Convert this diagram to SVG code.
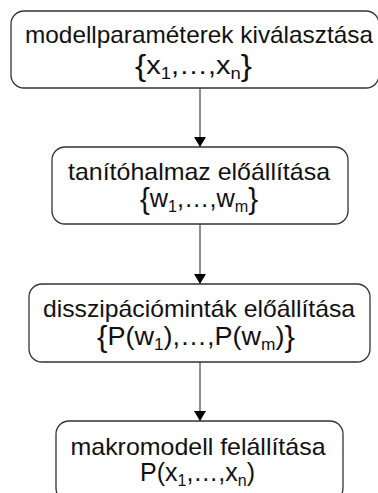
<svg xmlns="http://www.w3.org/2000/svg" width="378" height="493" viewBox="0 0 378 493">
  <defs>
    <marker id="arrow" viewBox="0 0 10 12" refX="10" refY="6" markerWidth="10" markerHeight="12" markerUnits="userSpaceOnUse" orient="auto">
      <path d="M0,0 L10,6 L0,12 Z" fill="#000"/>
    </marker>
  </defs>
  <style>
    .box { fill: #fff; stroke: #333; stroke-width: 1.3; }
    .label { font-family: "Liberation Sans", "DejaVu Sans", sans-serif; font-size: 24px; fill: #111; text-anchor: middle; }
    .math { font-size: 25px; }
    .sub { font-size: 16px; }
    .brace { font-size: 29px; }
    .edge { stroke: #555; stroke-width: 1.3; fill: none; marker-end: url(#arrow); }
  </style>
  <rect width="378" height="493" fill="#fff"/>

  <g id="connectors">
    <line class="edge" x1="200" y1="88" x2="200" y2="147"/>
    <line class="edge" x1="200" y1="224" x2="200" y2="284"/>
    <line class="edge" x1="200" y1="362" x2="200" y2="421"/>
  </g>

  <g id="node-params">
    <rect class="box" x="11" y="11" width="368" height="77" rx="13"/>
    <text class="label" x="199" y="43" textLength="348" lengthAdjust="spacingAndGlyphs">modellparaméterek kiválasztása</text>
    <text class="label math" x="193.5" y="74" textLength="117" lengthAdjust="spacingAndGlyphs"><tspan class="brace" dy="2">{</tspan><tspan dy="-2">x</tspan><tspan class="sub" dy="5">1</tspan><tspan dy="-5">,…,x</tspan><tspan class="sub" dy="5">n</tspan><tspan class="brace" dy="-3">}</tspan></text>
  </g>

  <g id="node-training">
    <rect class="box" x="52" y="147" width="296" height="77" rx="13"/>
    <text class="label" x="199" y="180" textLength="262" lengthAdjust="spacingAndGlyphs">tanítóhalmaz előállítása</text>
    <text class="label math" x="199" y="207" textLength="118" lengthAdjust="spacingAndGlyphs"><tspan class="brace" dy="2">{</tspan><tspan dy="-2">w</tspan><tspan class="sub" dy="5">1</tspan><tspan dy="-5">,…,w</tspan><tspan class="sub" dy="5">m</tspan><tspan class="brace" dy="-3">}</tspan></text>
  </g>

  <g id="node-dissipation">
    <rect class="box" x="29" y="284" width="341" height="78" rx="13"/>
    <text class="label" x="199" y="317" textLength="312" lengthAdjust="spacingAndGlyphs">disszipációminták előállítása</text>
    <text class="label math" x="196" y="345" textLength="198" lengthAdjust="spacingAndGlyphs"><tspan class="brace" dy="2">{</tspan><tspan dy="-2">P(w</tspan><tspan class="sub" dy="5">1</tspan><tspan dy="-5">),…,P(w</tspan><tspan class="sub" dy="5">m</tspan><tspan dy="-5">)</tspan><tspan class="brace" dy="2">}</tspan></text>
  </g>

  <g id="node-macromodel">
    <rect class="box" x="56" y="421" width="287" height="80" rx="13"/>
    <text class="label" x="198" y="455" textLength="255" lengthAdjust="spacingAndGlyphs">makromodell felállítása</text>
    <text class="label math" x="197.5" y="481" textLength="115" lengthAdjust="spacingAndGlyphs">P(x<tspan class="sub" dy="5">1</tspan><tspan dy="-5">,…,x</tspan><tspan class="sub" dy="5">n</tspan><tspan dy="-5">)</tspan></text>
  </g>
</svg>
